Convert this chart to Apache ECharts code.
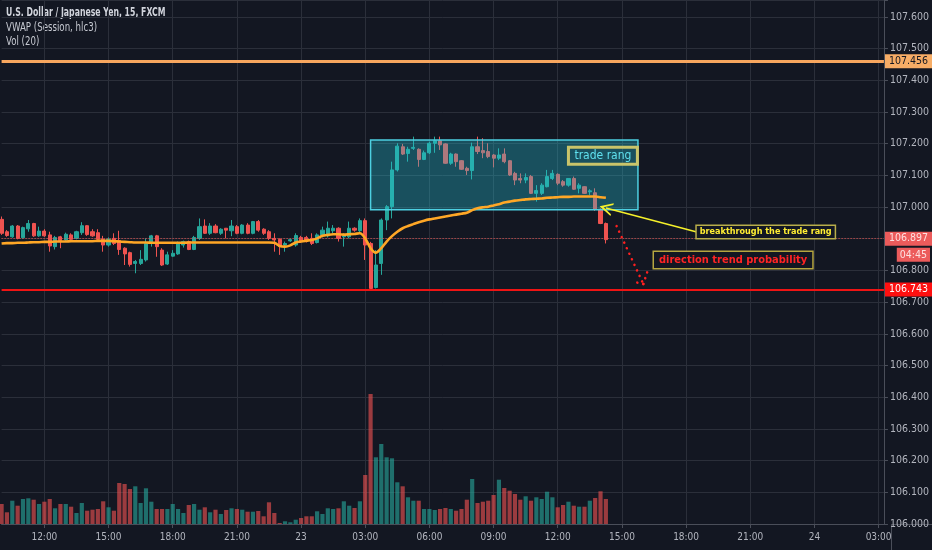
<!DOCTYPE html>
<html><head><meta charset="utf-8">
<script src="https://cdn.jsdelivr.net/npm/echarts@6/dist/echarts.min.js"></script>
<style>html,body{margin:0;padding:0;background:#131722;}#c{width:932px;height:550px;}</style>
</head><body><div id="c"></div>
<script>
const FONT = "'Liberation Sans Narrow','DejaVu Sans Condensed','Arial Narrow',sans-serif";
// time slots: 15-minute bars starting 22nd 10:00
const startDay = 22, startMinutes = 600, slotMinutes = 15, slotCount = 166;
const tickLabels = ['12:00','15:00','18:00','21:00','23','03:00','06:00','09:00','12:00','15:00','18:00','21:00','24','03:00'];
const firstTickIndex = 8, tickEvery = 12;
const priceTicks = { min: 106.0, max: 107.653, step: 0.1 };

// [open, close, low, high]
const candles = [
[106.961,106.917,106.912,106.970],[106.922,106.910,106.906,106.927],[106.906,106.940,106.903,106.943],[106.940,106.901,106.898,106.943],
[106.903,106.935,106.900,106.938],[106.931,106.948,106.922,106.959],[106.948,106.909,106.906,106.950],[106.909,106.924,106.906,106.938],
[106.924,106.909,106.906,106.930],[106.912,106.877,106.859,106.922],[106.875,106.904,106.866,106.909],[106.906,106.894,106.870,106.909],
[106.896,106.914,106.891,106.919],[106.912,106.898,106.891,106.917],[106.901,106.922,106.898,106.925],[106.919,106.941,106.912,106.952],
[106.941,106.913,106.909,106.943],[106.922,106.909,106.906,106.930],[106.919,106.898,106.896,106.930],[106.898,106.880,106.859,106.909],
[106.880,106.898,106.875,106.904],[106.901,106.885,106.880,106.917],[106.894,106.866,106.849,106.925],[106.870,106.852,106.817,106.873],
[106.856,106.819,106.812,106.859],[106.822,106.828,106.791,106.833],[106.822,106.835,106.817,106.864],[106.833,106.885,106.828,106.901],
[106.885,106.909,106.875,106.912],[106.909,106.875,106.843,106.912],[106.864,106.817,106.814,106.870],[106.820,106.849,106.817,106.859],
[106.845,106.854,106.843,106.864],[106.852,106.885,106.849,106.891],[106.880,106.891,106.872,106.894],[106.891,106.866,106.864,106.894],
[106.866,106.904,106.864,106.909],[106.901,106.938,106.896,106.964],[106.940,106.917,106.915,106.961],[106.917,106.940,106.912,106.949],
[106.940,106.919,106.917,106.946],[106.917,106.930,106.912,106.933],[106.933,106.927,106.901,106.933],[106.925,106.940,106.908,106.959],
[106.938,106.917,106.914,106.943],[106.917,106.943,106.914,106.946],[106.943,106.917,106.914,106.949],[106.917,106.954,106.914,106.956],
[106.954,106.927,106.922,106.959],[106.930,106.917,106.912,106.933],[106.922,106.901,106.896,106.927],[106.901,106.896,106.859,106.917],
[106.898,106.875,106.849,106.901],[106.880,106.885,106.859,106.891],[106.893,106.897,106.890,106.900],[106.880,106.910,106.875,106.917],
[106.904,106.893,106.887,106.909],[106.904,106.891,106.888,106.909],[106.901,106.885,106.880,106.917],[106.888,106.912,106.885,106.917],
[106.912,106.927,106.904,106.938],[106.909,106.933,106.904,106.954],[106.925,106.933,106.917,106.943],[106.933,106.901,106.891,106.936],
[106.906,106.909,106.875,106.917],[106.906,106.933,106.901,106.954],[106.933,106.927,106.922,106.936],[106.925,106.957,106.917,106.964],
[106.957,106.880,106.833,106.964],[106.885,106.743,106.743,106.890],[106.746,106.817,106.743,106.864],[106.822,106.959,106.786,106.964],
[106.959,107.001,106.927,107.006],[107.001,107.117,106.964,107.143],[107.117,107.192,107.112,107.201],[107.190,107.167,107.164,107.199],
[107.169,107.182,107.143,107.190],[107.185,107.188,107.180,107.222],[107.182,107.150,107.127,107.185],[107.150,107.171,107.148,107.178],
[107.171,107.201,107.167,107.206],[107.201,107.209,107.171,107.222],[107.209,107.196,107.180,107.222],[107.199,107.138,107.136,107.201],
[107.138,107.167,107.133,107.171],[107.167,107.143,107.127,107.169],[107.146,107.119,107.117,107.148],[107.122,107.115,107.101,107.127],
[107.115,107.190,107.087,107.203],[107.190,107.175,107.167,107.222],[107.178,107.171,107.154,107.217],[107.175,107.159,107.154,107.201],
[107.164,107.154,107.125,107.167],[107.154,107.164,107.148,107.185],[107.167,107.143,107.138,107.185],[107.146,107.101,107.098,107.148],
[107.106,107.085,107.069,107.111],[107.090,107.085,107.075,107.106],[107.085,107.093,107.075,107.106],[107.096,107.043,107.041,107.101],
[107.043,107.052,107.017,107.069],[107.043,107.069,107.038,107.075],[107.064,107.096,107.062,107.117],[107.090,107.106,107.085,107.117],
[107.103,107.075,107.069,107.106],[107.080,107.069,107.064,107.085],[107.069,107.090,107.064,107.090],[107.090,107.056,107.054,107.096],
[107.059,107.069,107.043,107.075],[107.064,107.043,107.041,107.066],[107.048,107.051,107.038,107.056],[107.045,106.993,106.988,107.059],
[106.993,106.948,106.946,106.996],[106.948,106.897,106.885,106.951]
];

const vwap = [
106.885,106.886,106.886,106.887,106.887,106.888,106.889,106.889,106.890,106.890,106.891,106.891,106.891,106.892,106.892,106.892,
106.892,106.892,106.893,106.893,106.893,106.892,106.891,106.890,106.889,106.888,106.888,106.888,106.887,106.887,106.887,106.887,
106.887,106.887,106.887,106.888,106.888,106.888,106.888,106.888,106.888,106.888,106.888,106.888,106.888,106.888,106.888,106.888,
106.888,106.888,106.888,106.887,106.877,106.875,106.879,106.888,106.891,106.894,106.896,106.901,106.909,106.912,106.914,106.914,
106.913,106.914,106.915,106.917,106.901,106.870,106.856,106.870,106.891,106.908,106.922,106.933,106.940,106.946,106.952,106.957,
106.961,106.964,106.967,106.970,106.973,106.976,106.979,106.982,106.990,106.996,106.999,107.001,107.005,107.009,107.014,107.017,
107.020,107.022,107.024,107.025,107.026,107.027,107.029,107.030,107.031,107.032,107.032,107.033,107.033,107.033,107.033,107.033,
107.031,107.029
];

const volumes = [
200,117,233,183,250,257,243,200,223,250,157,200,200,173,110,210,133,143,150,227,167,133,410,400,350,377,210,357,223,150,
150,150,200,150,110,190,200,143,167,117,143,100,140,157,150,143,123,123,130,77,217,110,10,27,17,43,60,77,
77,127,100,157,150,157,227,183,160,227,490,1300,667,800,667,657,417,377,267,233,233,150,150,140,150,160,150,133,150,243,
450,210,223,233,290,443,360,333,300,243,277,233,267,250,323,267,167,190,223,183,173,173,233,260,327,250
];
const volumeAxisMax = 5240;

const levelHigh = 107.456, levelLow = 106.743, lastPrice = 106.897, countdown = '04:45';
const tradeRangeX = [69, 119];
const tradeRangeY = [107.211, 106.991];
const arrowFrom = [130, 106.921], arrowTo = [113, 106.997];
const trendPath = [[115, 106.940], [120, 106.757]];
const trendHeadA = [[120, 106.757], [118, 106.765]];
const trendHeadB = [[120, 106.757], [121, 106.808]];
const notes = [
  { text: 'trade rang', at: [106, 107.162] },
  { text: 'breakthrough the trade rang', at: [130, 106.921] },
  { text: 'direction trend probability', at: [122, 106.833] }
];
const legendLines = ['U.S. Dollar / Japanese Yen, 15, FXCM', 'VWAP (Session, hlc3)', 'Vol (20)'];

const categories = [];
for (let i = 0; i < slotCount; i++) {
  const m = startMinutes + i * slotMinutes;
  const d = startDay + Math.floor(m / 1440);
  const mm = m % 1440;
  categories.push(d + ' ' + String(Math.floor(mm / 60)).padStart(2, '0') + ':' + String(mm % 60).padStart(2, '0'));
}
const isTick = (idx) => idx >= firstTickIndex && (idx - firstTickIndex) % tickEvery === 0;

const UP = '#26a69a', DOWN = '#ef5350';
const volData = volumes.map((v, i) => ({
  value: v,
  itemStyle: { color: candles[i][1] >= candles[i][0] ? 'rgba(38,166,154,0.62)' : 'rgba(239,83,80,0.62)' }
}));
const dotted = { color: '#ff2020', width: 2.5, type: [0.1, 6], cap: 'round' };

const chart = echarts.init(document.getElementById('c'));
const option = {
  backgroundColor: '#131722',
  animation: false,
  grid: { left: 1.6, right: 41, top: 0, bottom: 26, containLabel: false },
  xAxis: {
    type: 'category', data: categories, boundaryGap: false,
    axisLine: { show: true, lineStyle: { color: '#4a4e59' } },
    axisTick: { show: true, interval: (i) => isTick(i), length: 4, lineStyle: { color: '#4a4e59' } },
    splitLine: { show: true, interval: (i) => isTick(i), lineStyle: { color: '#2b2f3a', width: 1 } },
    axisLabel: {
      interval: (i) => isTick(i), color: '#b2b5be', fontSize: 10, fontFamily: FONT, margin: 8,
      formatter: (v, i) => tickLabels[(i - firstTickIndex) / tickEvery] || ''
    }
  },
  yAxis: [{
    type: 'value', position: 'right', min: priceTicks.min, max: priceTicks.max, interval: priceTicks.step,
    axisLine: { show: true, lineStyle: { color: '#4a4e59' } },
    axisTick: { show: true, length: 4, lineStyle: { color: '#4a4e59' } },
    splitLine: { show: true, lineStyle: { color: '#2b2f3a', width: 1 } },
    axisLabel: {
      color: '#b2b5be', fontSize: 10.5, fontFamily: FONT, margin: 6,
      formatter: (v) => Math.abs(v * 10 - Math.round(v * 10)) < 1e-6 ? v.toFixed(3) : ''
    }
  }, {
    type: 'value', min: 0, max: volumeAxisMax, show: false, splitLine: { show: false }
  }],
  series: [
    {
      name: 'Vol', type: 'bar', yAxisIndex: 1, data: volData, barWidth: '78%', z: 1, silent: true
    },
    {
      name: 'USDJPY', type: 'candlestick', data: candles, barWidth: '68%', z: 3,
      itemStyle: { color: UP, color0: DOWN, borderColor: UP, borderColor0: DOWN, borderWidth: 1 },
      markArea: {
        silent: true, z: 4,
        itemStyle: { color: 'rgba(38,198,218,0.33)', borderColor: '#4dd0e1', borderWidth: 1.5 },
        data: [[{ coord: [tradeRangeX[0], tradeRangeY[0]] }, { coord: [tradeRangeX[1], tradeRangeY[1]] }]]
      },
      markLine: {
        silent: true, symbol: ['none', 'none'], animation: false,
        data: [
          { yAxis: levelHigh, lineStyle: { color: '#f7a65e', width: 3, type: 'solid' },
            label: { show: true, position: 'end', distance: 1, formatter: levelHigh.toFixed(3), color: '#131722',
              backgroundColor: '#f7ad66', padding: [2, 4, 1, 4], fontSize: 10.5, fontFamily: FONT } },
          { yAxis: levelLow, lineStyle: { color: '#f01414', width: 2, type: 'solid' },
            label: { show: true, position: 'end', distance: 1, formatter: levelLow.toFixed(3), color: '#ffffff',
              backgroundColor: '#ff1010', padding: [2, 4, 1, 4], fontSize: 10.5, fontFamily: FONT } },
          { yAxis: lastPrice, lineStyle: { color: '#ef5350', width: 1, type: [1, 2] },
            label: { show: true, position: 'end', distance: 1, formatter: lastPrice.toFixed(3), color: '#fde0e0',
              backgroundColor: '#ec5b5b', padding: [2, 4, 1, 4], fontSize: 10.5, fontFamily: FONT } },
          [{ coord: arrowFrom, symbol: 'none' },
           { coord: arrowTo, symbol: 'path://M0,10 L5,0 L10,10 L8.6,10 L5,3.2 L1.4,10 Z', symbolSize: [13, 13],
             lineStyle: { color: '#f5f02a', width: 1.6, type: 'solid' }, label: { show: false } }],
          [{ coord: trendPath[0] }, { coord: trendPath[1], lineStyle: dotted, label: { show: false } }],
          [{ coord: trendHeadA[0] }, { coord: trendHeadA[1], lineStyle: dotted, label: { show: false } }],
          [{ coord: trendHeadB[0] }, { coord: trendHeadB[1], lineStyle: dotted, label: { show: false } }]
        ]
      },
      markPoint: {
        silent: true, symbol: 'circle', symbolSize: 0, animation: false,
        data: [
          { coord: notes[0].at, label: { show: true, position: 'right', distance: 0, formatter: notes[0].text,
              color: '#5fe0ee', fontSize: 12, fontFamily: FONT, borderColor: '#c9c46a', borderWidth: 1.5,
              padding: [3, 6, 2, 6], backgroundColor: 'rgba(0,0,0,0)' } },
          { coord: notes[1].at, label: { show: true, position: 'right', distance: 0, formatter: notes[1].text,
              color: '#ffee33', fontSize: 9, fontWeight: 'bold', fontFamily: FONT, borderColor: '#b8ad4a', borderWidth: 1.5,
              padding: [2, 3, 1, 3], backgroundColor: '#131722' } },
          { coord: notes[2].at, label: { show: true, position: 'right', distance: 0, formatter: notes[2].text,
              color: '#ff2424', fontSize: 11, fontWeight: 'bold', fontFamily: FONT, borderColor: '#b5a640', borderWidth: 1.5,
              padding: [3, 5, 2, 5], backgroundColor: '#131722' } }
        ]
      }
    },
    {
      name: 'VWAP', type: 'line', data: vwap, showSymbol: false, smooth: 0.3, z: 5, silent: true,
      lineStyle: { color: '#ffa726', width: 2.6 }
    }
  ],
  graphic: [
    { type: 'text', x: 6, y: 7, scaleX: 0.72, style: { text: legendLines[0], fill: '#d1d4dc', fontSize: 12, fontWeight: 'bold', fontFamily: FONT, verticalAlign: 'top' } },
    { type: 'text', x: 6, y: 22, scaleX: 0.8, style: { text: legendLines[1], fill: '#c5c8d0', fontSize: 12, fontFamily: FONT, verticalAlign: 'top' } },
    { type: 'text', x: 6, y: 36, scaleX: 0.8, style: { text: legendLines[2], fill: '#c5c8d0', fontSize: 12, fontFamily: FONT, verticalAlign: 'top' } }
  ]
};
chart.setOption(option);
const yLast = chart.convertToPixel({ yAxisIndex: 0 }, lastPrice);
chart.setOption({
  graphic: option.graphic.concat([
    { type: 'line', shape: { x1: 891, y1: 524.5, x2: 932, y2: 524.5 }, style: { stroke: '#4a4e59', lineWidth: 1 } },
    { type: 'line', shape: { x1: 891.5, y1: 524, x2: 891.5, y2: 550 }, style: { stroke: '#4a4e59', lineWidth: 1 } },
    { type: 'text', right: 2, top: yLast + 8, z: 10,
      style: { text: countdown, fill: '#fde0e0', backgroundColor: '#ec5b5b', padding: [2, 3, 1, 3], fontSize: 10.5, fontFamily: FONT } }
  ])
});
</script></body></html>
